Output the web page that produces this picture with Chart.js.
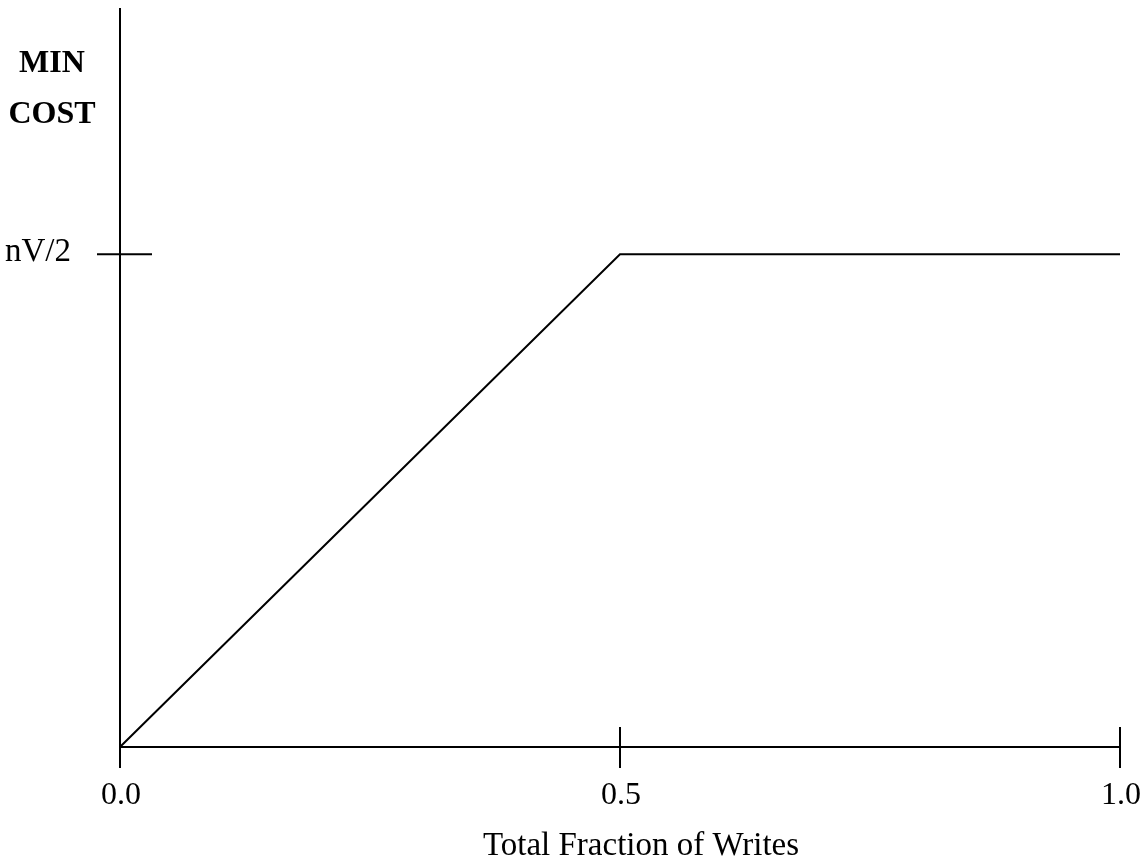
<!DOCTYPE html>
<html lang="en">
<head>
    <meta charset="UTF-8">
    <script src="https://cdn.jsdelivr.net/npm/chart.js"></script>
    <title>Min Cost</title>
    <style>
        html, body { margin: 0; padding: 0; background: #fff; }
        #grafico { display: block; }
    </style>
</head>
<body>
    <canvas id="grafico" width="1147" height="862"></canvas>

<script>
    // dados
    const fracaoEscritas = [0.0, 0.5, 1.0];
    const custoMinimo = [0, 1, 1];          // 1 = nV/2
    const xTicks = [0.0, 0.5, 1.0];
    const xTickLabels = ['0.0', '0.5', '1.0'];
    const yTicks = [1];
    const yTickLabels = ['nV/2'];
    const yTitle = ['MIN', 'COST'];
    const xTitle = 'Total Fraction of Writes';

    const serif = '"Liberation Serif", "Times New Roman", serif';

    // desenha eixos, marcas e textos a partir das escalas do Chart.js
    const eixosPlugin = {
        id: 'eixos',
        afterDatasetsDraw(chart) {
            const ctx = chart.ctx;
            const x = chart.scales.x;
            const y = chart.scales.y;
            const x0 = x.getPixelForValue(0);
            const y0 = y.getPixelForValue(0);
            ctx.save();
            ctx.strokeStyle = '#000';
            ctx.lineWidth = 2;
            ctx.lineCap = 'butt';

            // eixo y
            ctx.beginPath();
            ctx.moveTo(x0, chart.chartArea.top);
            ctx.lineTo(x0, y0 + 21);
            ctx.stroke();

            // eixo x
            ctx.beginPath();
            ctx.moveTo(x0, y0);
            ctx.lineTo(x.getPixelForValue(1), y0);
            ctx.stroke();

            // marcas do eixo x
            xTicks.forEach(function (v) {
                const px = x.getPixelForValue(v);
                ctx.beginPath();
                ctx.moveTo(px, y0 - 20);
                ctx.lineTo(px, y0 + 21);
                ctx.stroke();
            });

            // marcas do eixo y
            yTicks.forEach(function (v) {
                const py = y.getPixelForValue(v);
                ctx.beginPath();
                ctx.moveTo(x0 - 23, py);
                ctx.lineTo(x0 + 32, py);
                ctx.stroke();
            });

            ctx.fillStyle = '#000';
            ctx.textAlign = 'center';
            ctx.textBaseline = 'alphabetic';
            ctx.font = '32px ' + serif;
            xTicks.forEach(function (v, i) {
                ctx.fillText(xTickLabels[i], x.getPixelForValue(v) + 1, y0 + 57);
            });
            ctx.font = '33px ' + serif;
            yTicks.forEach(function (v, i) {
                ctx.fillText(yTickLabels[i], 38, y.getPixelForValue(v) + 7);
            });

            ctx.font = '33px ' + serif;
            ctx.fillText(xTitle, 641, 855);

            ctx.font = 'bold 32px ' + serif;
            ctx.fillText(yTitle[0], 52, 72);
            ctx.fillText(yTitle[1], 52, 123);
            ctx.restore();
        }
    };

    const data = {
        datasets: [{
            label: 'MIN COST',
            data: fracaoEscritas.map(function (v, i) { return { x: v, y: custoMinimo[i] }; }),
            borderColor: '#000',
            borderWidth: 2,
            pointRadius: 0,
            tension: 0,
            fill: false
        }]
    };

    const config = {
        type: 'line',
        data: data,
        options: {
            responsive: false,
            animation: false,
            layout: { padding: { left: 120, right: 27, top: 8, bottom: 115 } },
            plugins: { legend: { display: false }, tooltip: { enabled: false } },
            scales: {
                x: { type: 'linear', min: 0, max: 1, display: false },
                y: { type: 'linear', min: 0, max: 1.5, display: false }
            }
        },
        plugins: [eixosPlugin]
    };

    const grafico = new Chart(document.getElementById('grafico'), config);
</script>
</body>
</html>
